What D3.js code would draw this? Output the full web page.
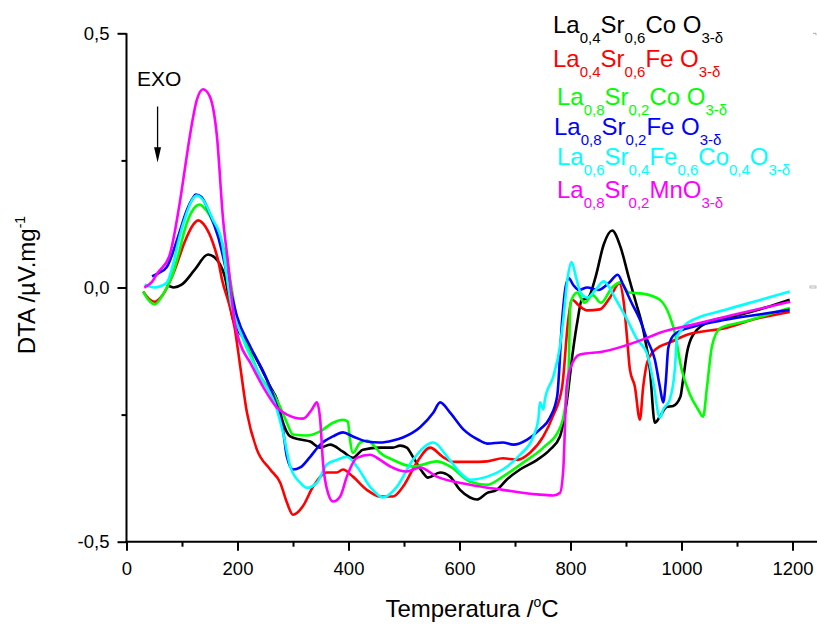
<!DOCTYPE html>
<html>
<head>
<meta charset="utf-8">
<script src="https://cdn.jsdelivr.net/npm/d3@7"></script>
<style>
  html, body { margin: 0; padding: 0; background: #fff; }
  svg { display: block; font-family: Arial, "Liberation Sans", sans-serif; }
</style>
</head>
<body>
<div id="chart"></div>
<script>
// DTA curves, [temperature °C, DTA µV/mg]
const lsco46 = [[73,0.005],[85,0.0],[100,0.006],[123,0.035],[147,0.065],[159,0.059],[177,0.022],[192,-0.063],[217,-0.108],[241,-0.155],[259,-0.195],[271,-0.22],[282,-0.266],[295,-0.293],[313,-0.299],[331,-0.303],[349,-0.315],[367,-0.309],[390,-0.323],[408,-0.335],[426,-0.319],[457,-0.315],[480,-0.315],[493,-0.311],[505,-0.315],[516,-0.333],[534,-0.364],[543,-0.374],[565,-0.364],[583,-0.372],[601,-0.398],[619,-0.413],[631,-0.417],[650,-0.404],[667,-0.398],[685,-0.378],[709,-0.358],[740,-0.339],[763,-0.319],[781,-0.293],[793,-0.227],[804,-0.128],[813,-0.063],[820,-0.025],[832,-0.02],[845,0.02],[860,0.085],[875,0.112],[890,0.08],[905,0.02],[918,-0.03],[931,-0.083],[943,-0.161],[952,-0.266],[961,-0.254],[973,-0.235],[985,-0.233],[998,-0.215],[1003,-0.18],[1010,-0.128],[1021,-0.093],[1051,-0.067],[1100,-0.055],[1150,-0.04],[1195,-0.024]]
const lsfo46 = [[30,-0.008],[40,-0.022],[51,-0.028],[65,-0.015],[87,0.035],[105,0.09],[118,0.12],[129,0.132],[142,0.12],[155,0.09],[166,0.049],[172,0.016],[186,-0.037],[195,-0.08],[204,-0.148],[217,-0.246],[235,-0.319],[259,-0.358],[277,-0.384],[289,-0.423],[300,-0.447],[318,-0.43],[336,-0.392],[361,-0.364],[379,-0.364],[390,-0.358],[408,-0.372],[433,-0.398],[457,-0.411],[480,-0.411],[498,-0.392],[523,-0.344],[547,-0.315],[570,-0.333],[588,-0.343],[619,-0.343],[650,-0.342],[678,-0.336],[704,-0.339],[727,-0.325],[751,-0.293],[768,-0.254],[785,-0.195],[796,-0.063],[803,-0.024],[815,-0.035],[830,-0.045],[853,-0.043],[871,-0.02],[888,0.008],[896,-0.03],[902,-0.1],[907,-0.161],[916,-0.195],[925,-0.26],[931,-0.195],[938,-0.148],[949,-0.126],[961,-0.116],[979,-0.108],[1010,-0.093],[1082,-0.079],[1129,-0.063],[1195,-0.048]]
const lsco82 = [[30,-0.008],[40,-0.025],[51,-0.033],[65,-0.015],[82,0.022],[95,0.07],[105,0.114],[118,0.15],[132,0.163],[145,0.15],[160,0.12],[172,0.089],[186,0.02],[200,-0.069],[220,-0.12],[241,-0.175],[264,-0.207],[277,-0.235],[289,-0.266],[300,-0.289],[325,-0.291],[349,-0.283],[372,-0.266],[390,-0.26],[399,-0.264],[402,-0.293],[408,-0.325],[421,-0.305],[433,-0.301],[445,-0.31],[457,-0.325],[480,-0.339],[516,-0.352],[559,-0.342],[583,-0.352],[619,-0.382],[650,-0.388],[678,-0.372],[715,-0.344],[751,-0.315],[782,-0.274],[796,-0.18],[800,-0.03],[812,-0.01],[825,-0.03],[840,-0.015],[855,-0.03],[875,0.0],[890,0.01],[905,-0.01],[930,-0.012],[961,-0.024],[979,-0.057],[988,-0.089],[1000,-0.16],[1015,-0.21],[1030,-0.24],[1039,-0.254],[1046,-0.195],[1055,-0.115],[1070,-0.08],[1110,-0.068],[1150,-0.055],[1195,-0.04]]
const lsfo82 = [[46,0.022],[57,0.028],[73,0.041],[93,0.1],[108,0.15],[118,0.173],[125,0.183],[135,0.178],[150,0.145],[165,0.1],[186,0.002],[199,-0.057],[223,-0.116],[253,-0.181],[271,-0.234],[282,-0.28],[289,-0.333],[300,-0.358],[313,-0.354],[331,-0.333],[349,-0.309],[372,-0.293],[390,-0.285],[408,-0.293],[433,-0.303],[457,-0.305],[480,-0.301],[498,-0.295],[529,-0.275],[553,-0.246],[565,-0.226],[583,-0.246],[607,-0.279],[633,-0.299],[650,-0.307],[678,-0.305],[697,-0.309],[722,-0.299],[745,-0.279],[763,-0.256],[776,-0.214],[785,-0.063],[791,0.0],[797,0.018],[805,0.005],[815,-0.005],[830,0.0],[850,-0.005],[870,0.01],[885,0.025],[895,0.005],[910,-0.03],[925,-0.063],[938,-0.102],[952,-0.142],[961,-0.195],[967,-0.226],[972,-0.181],[976,-0.12],[982,-0.1],[990,-0.09],[1021,-0.077],[1082,-0.063],[1140,-0.053],[1195,-0.044]]
const lsfco64 = [[33,0.006],[42,0.002],[51,0.0],[62,0.003],[73,0.01],[85,0.05],[93,0.089],[108,0.145],[118,0.172],[127,0.181],[138,0.172],[155,0.135],[172,0.089],[186,-0.018],[210,-0.102],[241,-0.175],[271,-0.24],[282,-0.285],[295,-0.352],[313,-0.384],[325,-0.394],[343,-0.384],[361,-0.348],[379,-0.339],[397,-0.333],[415,-0.352],[439,-0.392],[462,-0.413],[487,-0.392],[516,-0.339],[553,-0.305],[578,-0.333],[601,-0.364],[619,-0.378],[650,-0.372],[678,-0.358],[709,-0.329],[733,-0.293],[742,-0.26],[745,-0.226],[751,-0.24],[754,-0.22],[769,-0.175],[781,-0.116],[787,-0.063],[795,0.02],[802,0.05],[810,0.02],[818,-0.01],[830,-0.02],[845,-0.005],[860,0.012],[870,0.0],[880,-0.02],[902,-0.063],[920,-0.102],[938,-0.13],[949,-0.185],[961,-0.256],[967,-0.24],[979,-0.22],[988,-0.161],[992,-0.1],[1000,-0.083],[1010,-0.07],[1082,-0.043],[1140,-0.025],[1195,-0.008]]
const lsmo82 = [[32,0.0],[45,0.01],[57,0.03],[77,0.061],[96,0.167],[105,0.232],[114,0.297],[127,0.37],[138,0.39],[150,0.376],[163,0.297],[174,0.134],[183,0.049],[195,-0.069],[204,-0.108],[223,-0.148],[246,-0.195],[271,-0.236],[289,-0.25],[318,-0.258],[334,-0.24],[343,-0.226],[349,-0.26],[354,-0.344],[363,-0.404],[372,-0.421],[385,-0.411],[397,-0.372],[415,-0.335],[439,-0.329],[457,-0.339],[475,-0.352],[505,-0.362],[529,-0.354],[559,-0.372],[619,-0.388],[678,-0.398],[740,-0.407],[769,-0.409],[781,-0.404],[787,-0.358],[793,-0.195],[799,-0.161],[817,-0.132],[859,-0.126],[931,-0.102],[961,-0.089],[1021,-0.073],[1100,-0.052],[1196,-0.028]]

const seriesData = [lsco46, lsfo46, lsco82, lsfo82, lsfco64, lsmo82]
const seriesColors = ['#000000', '#ff0000', '#00ff00', '#0000ff', '#00ffff', '#ff00ff']
// legend labels as [text, subscript?] pieces
const seriesLabels = [
  [['La'],['0,4',1],['Sr'],['0,6',1],['Co O'],['3-\u03b4',1]],
  [['La'],['0,4',1],['Sr'],['0,6',1],['Fe O'],['3-\u03b4',1]],
  [['La'],['0,8',1],['Sr'],['0,2',1],['Co O'],['3-\u03b4',1]],
  [['La'],['0,8',1],['Sr'],['0,2',1],['Fe O'],['3-\u03b4',1]],
  [['La'],['0,6',1],['Sr'],['0,4',1],['Fe'],['0,6',1],['Co'],['0,4',1],['O'],['3-\u03b4',1]],
  [['La'],['0,8',1],['Sr'],['0,2',1],['MnO'],['3-\u03b4',1]]
]
const xMajorTicks = [0, 200, 400, 600, 800, 1000, 1200]
const xMinorTicks = [100, 300, 500, 700, 900, 1100]
const yMajorTicks = [-0.5, 0.0, 0.5]
const yMinorTicks = [-0.25, 0.25]

const width = 817
const height = 624
const legend_pos = [[553,33],[553,67],[557,105],[554,135],[557,165],[557,198]]

const svg = d3.select('#chart').append('svg')
  .attr('width', width)
  .attr('height', height)

const x = d3.scaleLinear().domain([0, 1200]).range([126.5, 792.5])
const y = d3.scaleLinear().domain([-0.5, 0.5]).range([541.7, 33.3])

const fmt = (v) => v.toFixed(1).replace('.', ',')

// x axis
const xAxis = svg.append('g')
  .attr('transform', `translate(0,${y(-0.5)})`)
  .call(d3.axisBottom(x).tickValues(xMajorTicks).tickSize(9).tickPadding(11).tickSizeOuter(0).tickFormat(d3.format('d')))
svg.append('g')
  .attr('transform', `translate(0,${y(-0.5)})`)
  .call(d3.axisBottom(x).tickValues(xMinorTicks).tickSize(5).tickSizeOuter(0).tickFormat(''))
  .call(g => g.select('.domain').remove())

// y axis
const yAxis = svg.append('g')
  .attr('transform', `translate(${x(0)},0)`)
  .call(d3.axisLeft(y).tickValues(yMajorTicks).tickSize(9).tickPadding(8).tickSizeOuter(0).tickFormat(fmt))
svg.append('g')
  .attr('transform', `translate(${x(0)},0)`)
  .call(d3.axisLeft(y).tickValues(yMinorTicks).tickSize(5).tickSizeOuter(0).tickFormat(''))
  .call(g => g.select('.domain').remove())

// the bottom axis line runs on to the page edge
xAxis.select('.domain').attr('d', `M${x(0) - 1},0H${width}`)
yAxis.select('.domain').attr('d', `M0,${y(0.5)}V${y(-0.5) + 1}`)

svg.selectAll('.domain, .tick line').attr('stroke', '#000').attr('stroke-width', 2)
svg.selectAll('.tick text').attr('fill', '#000').style('font-size', '18.5px')

// faint right axis remnants
svg.append('path')
  .attr('d', `M${width - 4},${y(0.5)}h3v2`)
  .attr('fill', 'none').attr('stroke', '#aaa').attr('stroke-width', 1)
svg.append('rect')
  .attr('x', width - 7).attr('y', y(0) - 1.5).attr('width', 6).attr('height', 2)
  .attr('fill', 'none').attr('stroke', '#aaa').attr('stroke-width', 0.8)

// curves
const line = d3.line()
  .x((d) => x(d[0]))
  .y((d) => y(d[1]))
  .curve(d3.curveMonotoneX)

svg.selectAll('.dta')
  .data(seriesData)
  .enter()
  .append('path')
    .attr('class', 'dta')
    .attr('d', (d) => line(d))
    .attr('fill', 'none')
    .attr('stroke', (d, i) => seriesColors[i])
    .attr('stroke-width', 2.6)
    .attr('stroke-linejoin', 'round')

// EXO annotation
svg.append('text')
  .attr('x', x(19)).attr('y', y(0.396))
  .style('font-size', '21px')
  .text('EXO')
svg.append('line')
  .attr('x1', x(56)).attr('x2', x(56))
  .attr('y1', y(0.356)).attr('y2', y(0.27))
  .attr('stroke', '#000').attr('stroke-width', 1.3)
svg.append('path')
  .attr('d', `M${x(56) - 3.5},${y(0.276)}L${x(56) + 3.5},${y(0.276)}L${x(56)},${y(0.246)}Z`)
  .attr('fill', '#000')

// axis titles
const xt = svg.append('text')
  .attr('x', 472).attr('y', 617)
  .attr('text-anchor', 'middle')
  .style('font-size', '24px')
xt.append('tspan').text('Temperatura /')
xt.append('tspan').attr('dy', -10).style('font-size', '14px').text('o')
xt.append('tspan').attr('dy', 10).text('C')

const yt = svg.append('text')
  .attr('transform', 'translate(35,285) rotate(-90)')
  .attr('text-anchor', 'middle')
  .style('font-size', '24px')
yt.append('tspan').text('DTA /\u00b5V.mg')
yt.append('tspan').attr('dy', -10).style('font-size', '14px').text('-1')

// legend
seriesLabels.forEach((parts, i) => {
  const [lx, ly] = legend_pos[i]
  const t = svg.append('text')
    .attr('x', lx).attr('y', ly)
    .attr('fill', seriesColors[i])
    .style('font-size', '24px')
  parts.forEach((p) => {
    t.append('tspan')
      .attr('y', p[1] ? ly + 9.5 : ly)
      .style('font-size', p[1] ? '15px' : '24px')
      .text(p[0])
  })
})
</script>
</body>
</html>
